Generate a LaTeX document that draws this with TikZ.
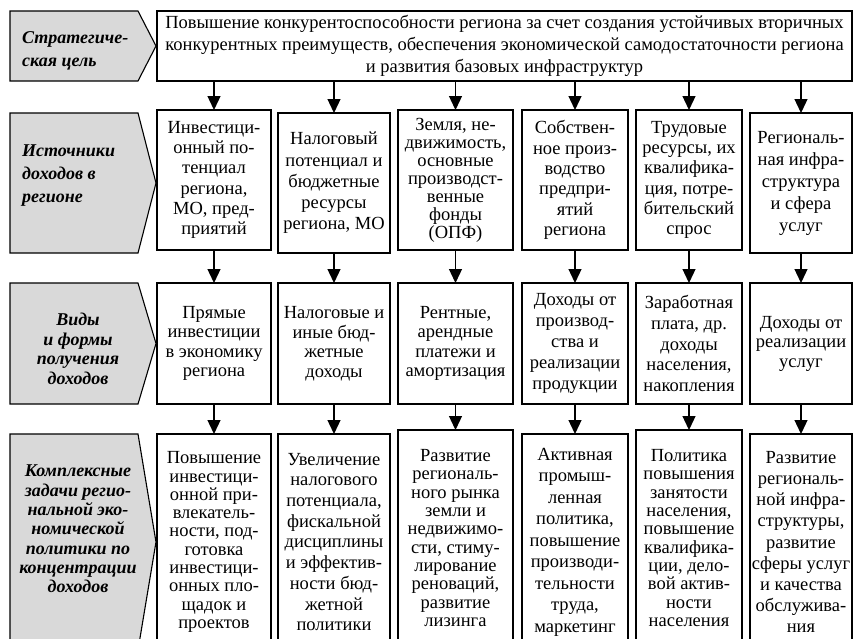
\documentclass[tikz,border=0pt]{standalone}
\usepackage{fontspec}
\setmainfont{Liberation Serif}
\usetikzlibrary{arrows.meta}
\begin{document}
\begin{tikzpicture}[x=1pt,y=-1pt,
 box/.style={draw, line width=1.4pt, inner sep=0pt, outer sep=0pt, align=center, font=\fontsize{18.5}{20.3}\selectfont},
 lsp/.style={font=\fontsize{18.5}{#1}\selectfont},
 lab/.style={font=\fontsize{18}{#1}\selectfont\bfseries\itshape, inner sep=0pt},
 gshape/.style={draw, line width=1.1pt, fill=black!15, line join=miter},
 arr/.style={line width=1.3pt, -{Triangle[width=13pt,length=14pt]}}]
\useasboundingbox (0,0) rectangle (855,638);
\clip (0,0) rectangle (855,638);
\fill[white] (0,0) rectangle (855,638);
% gray labels
\draw[gshape] (10,11) -- (138,11) -- (156,46) -- (138,81) -- (10,81) -- cycle;
\draw[gshape] (10,113) -- (138,113) -- (156,183) -- (138,253) -- (10,253) -- cycle;
\draw[gshape] (10,283) -- (138,283) -- (156,343.5) -- (138,404) -- (10,404) -- cycle;
\draw[gshape] (10,434) -- (138,434) -- (156,542) -- (138,650) -- (10,650) -- cycle;
\node[lab=23, anchor=west, align=left] (g1) at (22,51) {Стратегиче-\\ская цель};
\node[lab=23, anchor=west, align=left] (g2) at (22,176) {Источники\\доходов в\\регионе};
\node[lab=19.5, align=center] (g3) at (78,349) {Виды\\и формы\\получения\\доходов};
\node[lab=19.3, align=center] (g4) at (78,529) {Комплексные\\задачи регио-\\нальной эко-\\номической\\политики по\\концентрации\\доходов};
% top box
\node[box, minimum width=695pt, minimum height=70pt, lsp=22] (goal) at (504.5,46)
 {Повышение конкурентоспособности региона за счет создания устойчивых вторичных\\
  конкурентных преимуществ, обеспечения экономической самодостаточности региона\\
  и развития базовых инфраструктур};
% row 2
\node[box, minimum width=114pt, minimum height=140pt] (s1) at (214,180) {Инвестици-\\онный по-\\тенциал\\региона,\\МО, пред-\\приятий};
\node[box, minimum width=112pt, minimum height=140pt, lsp=21.2] (s2) at (334,183) {Налоговый\\потенциал и\\бюджетные\\ресурсы\\региона, МО};
\node[box, minimum width=115pt, minimum height=140pt, lsp=18] (s3) at (455.5,180) {Земля, не-\\движимость,\\основные\\производст-\\венные\\фонды\\(ОПФ)};
\node[box, minimum width=106pt, minimum height=140pt] (s4) at (575,180) {Собствен-\\ное произ-\\водство\\предпри-\\ятий\\региона};
\node[box, minimum width=106pt, minimum height=140pt] (s5) at (689,180) {Трудовые\\ресурсы, их\\квалифика-\\ция, потре-\\бительский\\спрос};
\node[box, minimum width=102pt, minimum height=140pt, lsp=22] (s6) at (801,183) {Региональ-\\ная инфра-\\структура\\и сфера\\услуг};
% row 3
\node[box, minimum width=114pt, minimum height=121pt, lsp=19.5] (f1) at (214,343.5) {Прямые\\инвестиции\\в экономику\\региона};
\node[box, minimum width=112pt, minimum height=121pt, lsp=19.5] (f2) at (334,343.5) {Налоговые и\\иные бюд-\\жетные\\доходы};
\node[box, minimum width=115pt, minimum height=121pt, lsp=19.5] (f3) at (455.5,343.5) {Рентные,\\арендные\\платежи и\\амортизация};
\node[box, minimum width=106pt, minimum height=121pt, lsp=20.8] (f4) at (575,343.5) {Доходы от\\производ-\\ства и\\реализации\\продукции};
\node[box, minimum width=106pt, minimum height=121pt, lsp=20.8] (f5) at (689,343.5) {Заработная\\плата, др.\\доходы\\населения,\\накопления};
\node[box, minimum width=102pt, minimum height=121pt, lsp=19.5] (f6) at (801,343.5) {Доходы от\\реализации\\услуг};
% row 4
\node[box, minimum width=114pt, minimum height=216pt, lsp=18.3] (t1) at (214,542) {Повышение\\инвестици-\\онной при-\\влекатель-\\ности, под-\\готовка\\инвестици-\\онных пло-\\щадок и\\проектов};
\node[box, minimum width=112pt, minimum height=216pt, lsp=20.7] (t2) at (334,542) {Увеличение\\налогового\\потенциала,\\фискальной\\дисциплины\\и эффектив-\\ности бюд-\\жетной\\политики};
\node[box, minimum width=115pt, minimum height=216pt, lsp=18.3] (t3) at (455.5,538) {Развитие\\региональ-\\ного рынка\\земли и\\недвижимо-\\сти, стиму-\\лирование\\реноваций,\\развитие\\лизинга};
\node[box, minimum width=106pt, minimum height=216pt, lsp=21.5] (t4) at (575,542) {Активная\\промыш-\\ленная\\политика,\\повышение\\производи-\\тельности\\труда,\\маркетинг};
\node[box, minimum width=106pt, minimum height=216pt, lsp=18.3] (t5) at (689,538) {Политика\\повышения\\занятости\\населения,\\повышение\\квалифика-\\ции, дело-\\вой актив-\\ности\\населения};
\node[box, minimum width=102pt, minimum height=216pt, lsp=21.2] (t6) at (801,542) {Развитие\\региональ-\\ной инфра-\\структуры,\\развитие\\сферы услуг\\и качества\\обслужива-\\ния};
% arrows
\foreach \i in {1,...,6} {
  \draw[arr] (goal.south -| s\i.north) -- (s\i.north);
  \draw[arr] (s\i.south) -- (f\i.north);
  \draw[arr] (f\i.south) -- (t\i.north);
}
\end{tikzpicture}
\end{document}
